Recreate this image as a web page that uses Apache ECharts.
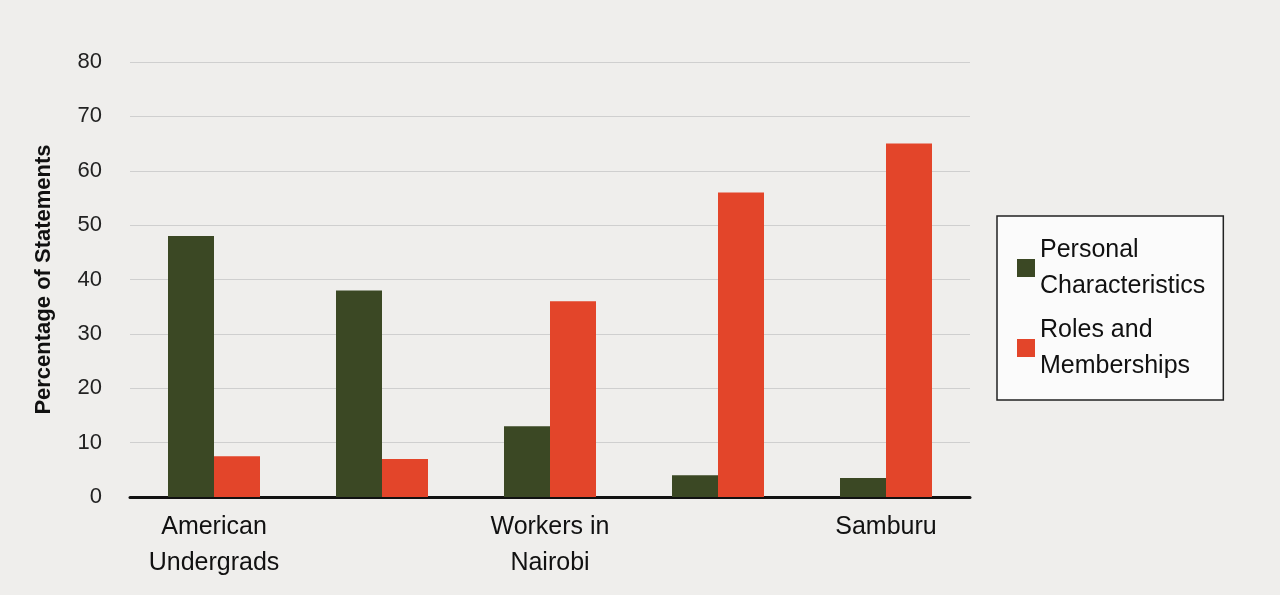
<!DOCTYPE html>
<html><head><meta charset="utf-8">
<script src="https://cdn.jsdelivr.net/npm/echarts@6/dist/echarts.min.js"></script>
<style>body{margin:0;background:#efeeec}#c{width:1280px;height:595px}</style>
</head><body><div id="c"></div>
<script>
const categories = ['American\nUndergrads', 'Nairobi\nUndergrads', 'Workers in\nNairobi', 'Masai', 'Samburu'];
const personal = [48, 38, 13, 4, 3.5];
const roles = [7.5, 7, 36, 56, 65];
const yTicks = { min: 0, max: 80, interval: 10 };

const chart = echarts.init(document.getElementById('c'));
chart.setOption({
  backgroundColor: '#efeeec',
  textStyle: { fontFamily: 'Liberation Sans, Arial', color: '#222' },
  grid: { left: 130, right: 310, top: 62, bottom: 98 },
  legend: {
    orient: 'vertical', left: 997, top: 216,
    backgroundColor: '#fbfbfb', borderColor: '#222', borderWidth: 1.5,
    padding: [16, 18, 16, 20], itemWidth: 18, itemHeight: 18, itemGap: 8,
    icon: 'rect',
    textStyle: { fontSize: 25, color: '#111', lineHeight: 36 },
    data: ['Personal\nCharacteristics', 'Roles and\nMemberships']
  },
  xAxis: {
    type: 'category', data: categories,
    axisLine: { lineStyle: { color: '#111', width: 3 } },
    axisTick: { show: false },
    axisLabel: { fontSize: 25, color: '#111', lineHeight: 36, margin: 12 }
  },
  yAxis: {
    type: 'value', min: yTicks.min, max: yTicks.max, interval: yTicks.interval,
    name: 'Percentage of Statements', nameLocation: 'middle', nameGap: 75,
    nameTextStyle: { fontSize: 22, fontWeight: 'bold', color: '#111' },
    axisLabel: { fontSize: 22, color: '#222', margin: 28 },
    splitLine: { lineStyle: { color: '#cfcfcf' } }
  },
  series: [
    { name: 'Personal\nCharacteristics', type: 'bar', data: personal, barWidth: 46, barGap: '0%',
      itemStyle: { color: '#3b4824' } },
    { name: 'Roles and\nMemberships', type: 'bar', data: roles, barWidth: 46,
      itemStyle: { color: '#e3452a' } }
  ]
});
</script></body></html>
